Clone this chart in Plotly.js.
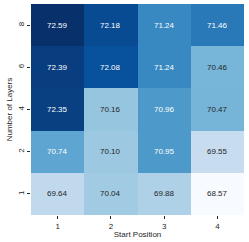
<!DOCTYPE html>
<html><head><meta charset="utf-8">
<script src="https://cdn.plot.ly/plotly-3.0.1.min.js"></script>
<style>body{margin:0;padding:0;background:#fff}#c{width:249px;height:242px}</style>
</head><body><div id="c"></div>
<script>
const startPositions = ['1','2','3','4'];
const layerCounts = ['8','6','4','2','1'];
const scores = [
  [72.59, 72.18, 71.24, 71.46],
  [72.39, 72.08, 71.24, 70.46],
  [72.35, 70.16, 70.96, 70.47],
  [70.74, 70.10, 70.95, 69.55],
  [69.64, 70.04, 69.88, 68.57]
];
const blues = [
  [0,'#f7fbff'],[0.125,'#deebf7'],[0.25,'#c6dbef'],[0.375,'#9ecae1'],
  [0.5,'#6baed6'],[0.625,'#4292c6'],[0.75,'#2171b5'],[0.875,'#08519c'],[1,'#08306b']
];
const flat = scores.flat();
const zmin = Math.min(...flat), zmax = Math.max(...flat);
const font = 'Liberation Sans, Arial, sans-serif';
const yOrder = layerCounts.slice().reverse();
const annotations = [];
layerCounts.forEach((l, i) => {
  startPositions.forEach((s, j) => {
    const v = scores[i][j];
    const frac = (v - zmin) / (zmax - zmin);
    annotations.push({
      x: startPositions.indexOf(s), y: yOrder.indexOf(l), xref: 'x', yref: 'y',
      text: v.toFixed(2), showarrow: false,
      font: {family: font, size: 8, color: frac > 0.52 ? '#ffffff' : '#262626'}
    });
  });
});
Plotly.newPlot('c', [{
  type: 'heatmap', x: startPositions, y: layerCounts, z: scores,
  colorscale: blues, zmin: zmin, zmax: zmax, showscale: false,
  xgap: 0, ygap: 0, hoverinfo: 'skip'
}], {
  width: 249, height: 242,
  margin: {l: 31, r: 5, t: 4, b: 27},
  paper_bgcolor: '#fff', plot_bgcolor: '#fff',
  font: {family: font, size: 8, color: '#262626'},
  xaxis: {type: 'category', categoryorder: 'array', categoryarray: startPositions,
    range: [-0.5, startPositions.length - 0.5], ticks: 'outside', ticklen: 3, tickcolor: '#262626',
    showgrid: false, zeroline: false, showline: false,
    tickfont: {size: 8}, title: {text: 'Start Position', font: {size: 8}, standoff: 1}},
  yaxis: {type: 'category', categoryorder: 'array', categoryarray: yOrder,
    range: [-0.5, yOrder.length - 0.5],
    ticks: 'outside', ticklen: 3, tickcolor: '#262626', tickangle: -90,
    showgrid: false, zeroline: false, showline: false,
    tickfont: {size: 8}, title: {text: 'Number of Layers', font: {size: 8}, standoff: 2}},
  annotations: annotations
}, {staticPlot: true, displayModeBar: false});
</script></body></html>
